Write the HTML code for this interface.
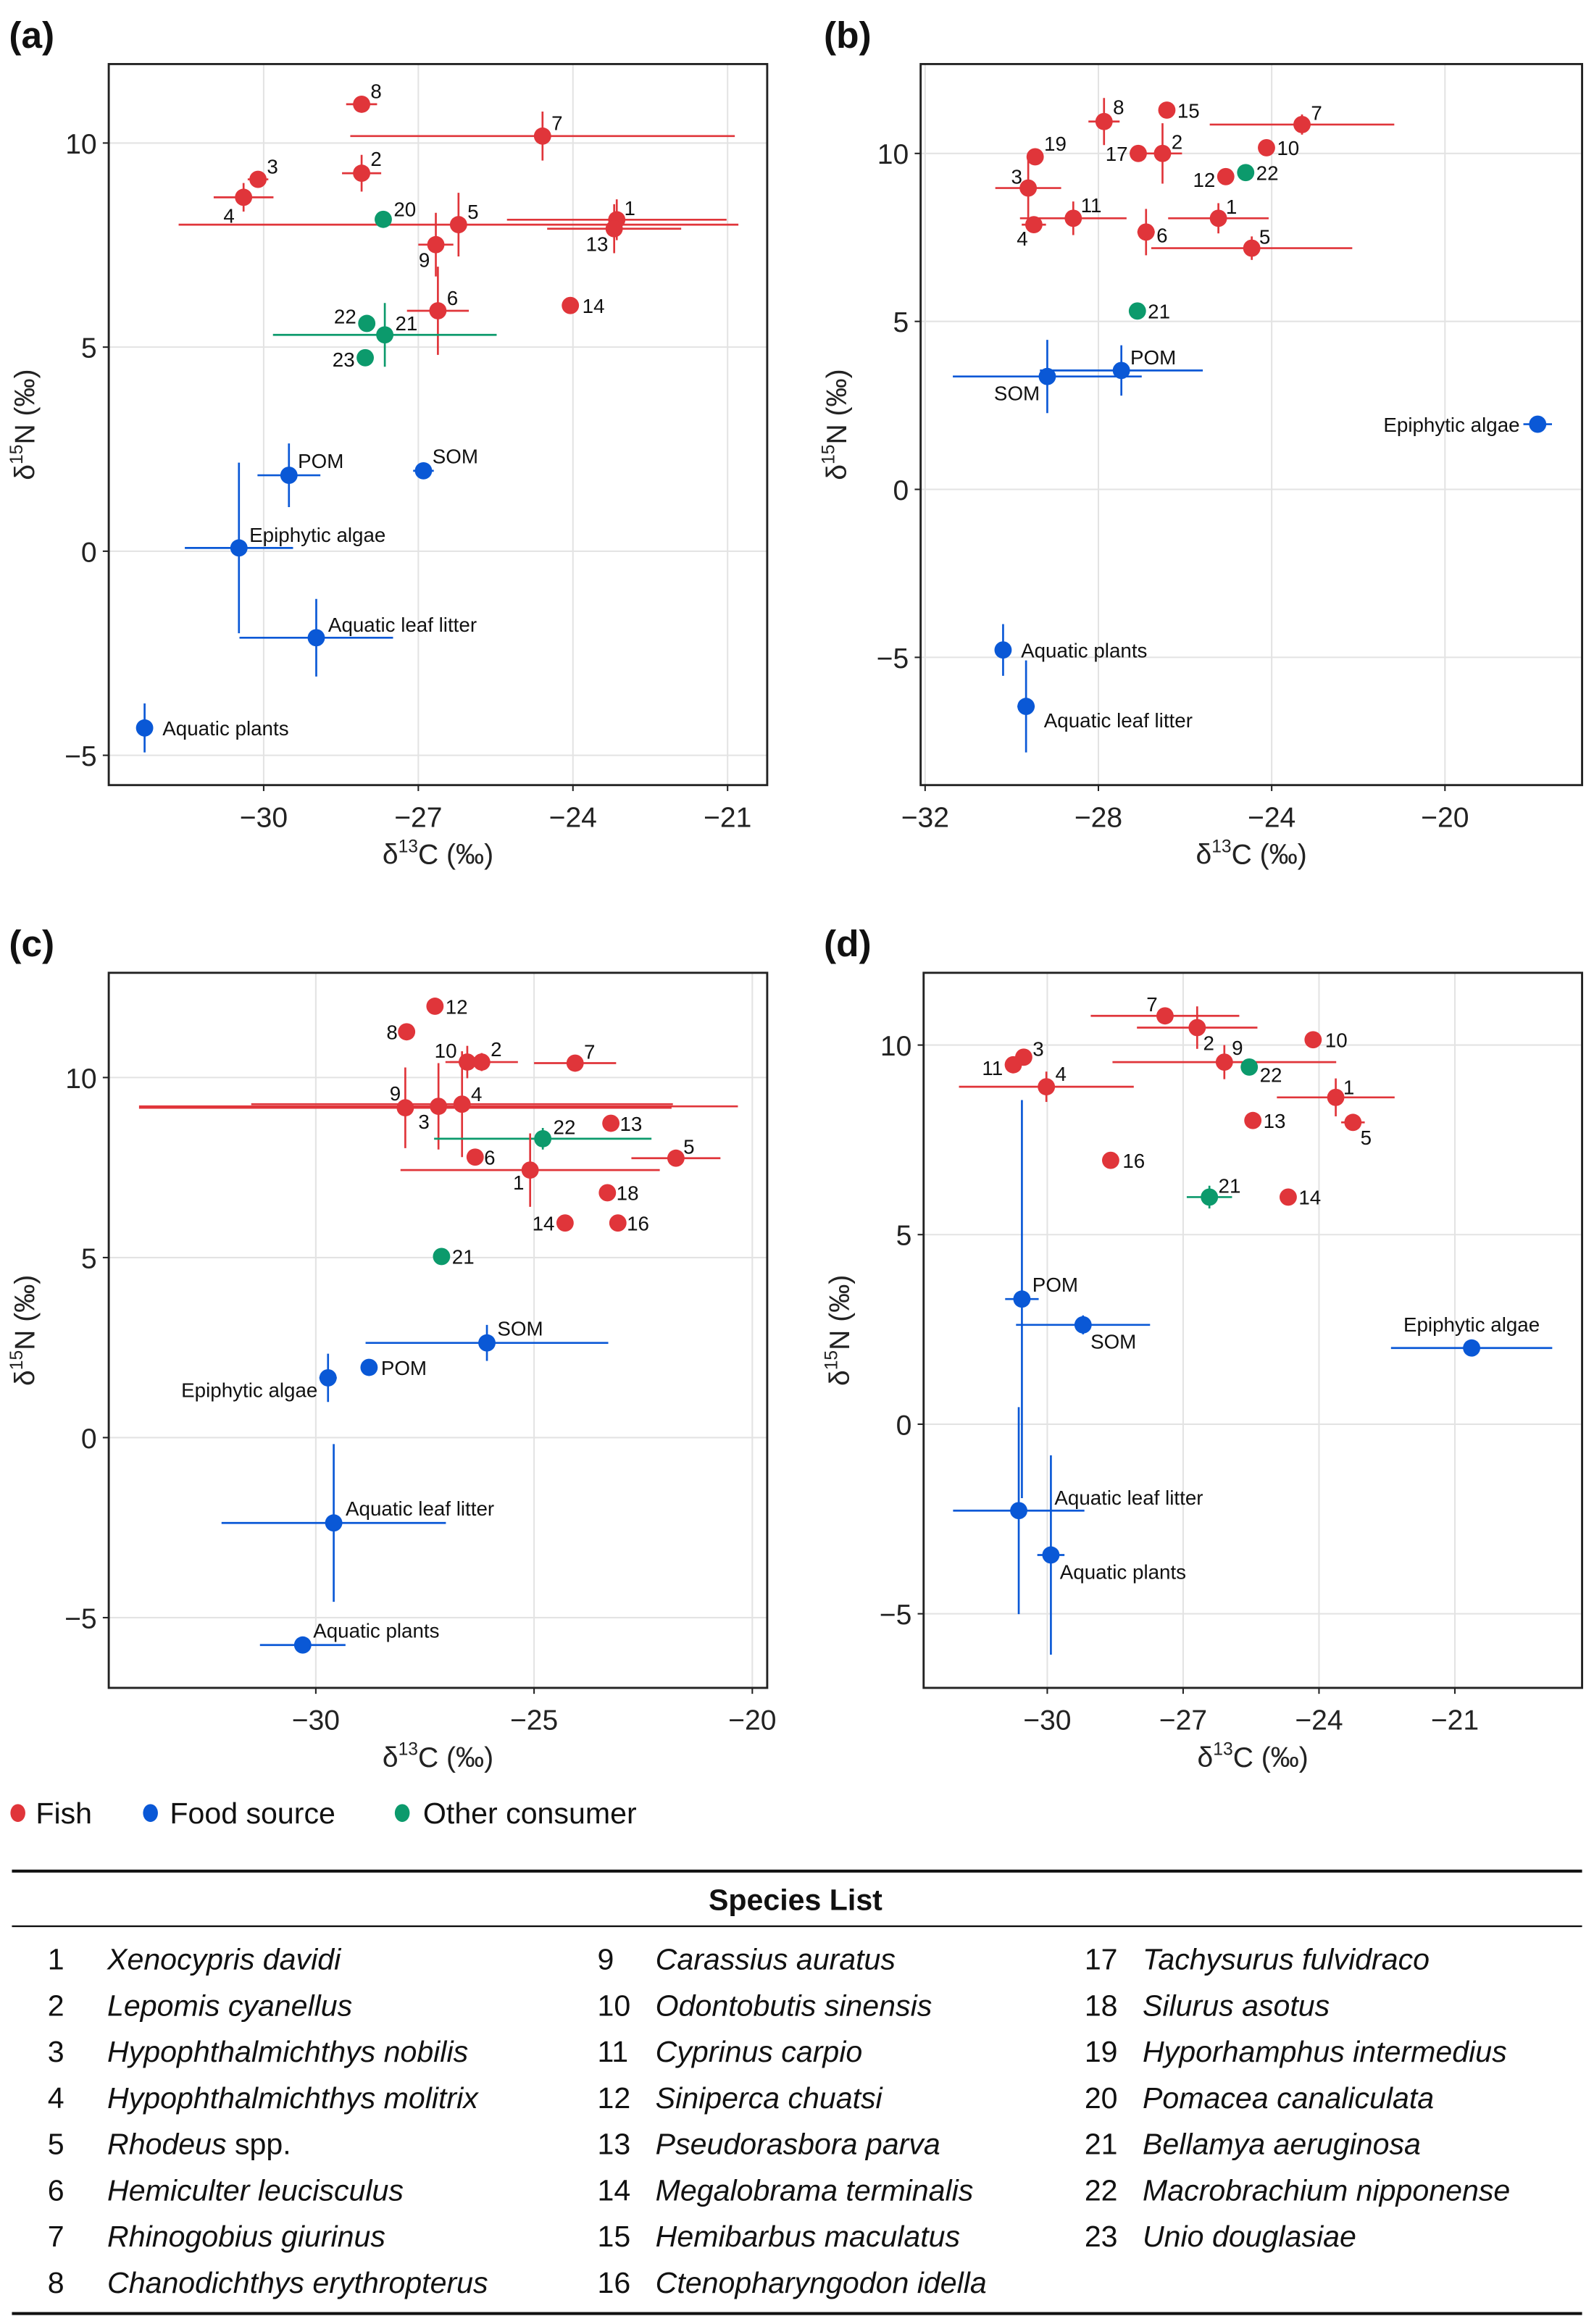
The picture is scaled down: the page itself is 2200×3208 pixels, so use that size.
<!DOCTYPE html>
<html><head><meta charset="utf-8"><style>
html,body{margin:0;padding:0;background:#fff;}
svg{display:block;font-family:"Liberation Sans",sans-serif;}
</style></head><body>
<svg id="fig" width="2200" height="3208" viewBox="0 0 1070 1560" preserveAspectRatio="none" xmlns="http://www.w3.org/2000/svg"></svg>
<script>
// ---------- Panel (a) data ----------
const aLabels = ['1','13','5','7','8','2','3','4','20','9','6','14','21','22','23','POM','SOM','Epiphytic algae','Aquatic leaf litter','Aquatic plants'];
const aGroups = ['f','f','f','f','f','f','f','f','o','f','f','f','o','o','o','s','s','s','s','s'];
const aX = [-23.15,-23.2,-26.22,-24.59,-28.1,-28.1,-30.11,-30.39,-27.68,-26.66,-26.62,-24.05,-27.65,-28.0,-28.03,-29.51,-26.9,-30.48,-28.98,-32.31];
const aY = [8.12,7.9,8.0,10.17,10.95,9.26,9.11,8.67,8.13,7.51,5.89,6.02,5.3,5.58,4.74,1.86,1.97,0.08,-2.12,-4.33];
const aXerr = [2.13,1.3,5.43,3.73,0.3,0.38,0.2,0.58,0,0.34,0.6,0,2.17,0,0,0.61,0.2,1.05,1.49,0];
const aYerr = [0.5,0.6,0.78,0.6,0,0.45,0.2,0.35,0,0.78,1.08,0,0.78,0,0,0.78,0,2.09,0.95,0.6];
const aXTicks = [-30,-27,-24,-21];
const aYTicks = [-5,0,5,10];
// ---------- Panel (b) data ----------
const bLabels = ['8','15','7','19','17','2','10','12','22','3','11','4','6','1','5','21','POM','SOM','Epiphytic algae','Aquatic plants','Aquatic leaf litter'];
const bGroups = ['f','f','f','f','f','f','f','f','o','f','f','f','f','f','f','o','s','s','s','s','s'];
const bX = [-27.87,-26.42,-23.3,-29.46,-27.08,-26.52,-24.12,-25.06,-24.6,-29.62,-28.58,-29.49,-26.9,-25.23,-24.46,-27.1,-27.47,-29.18,-17.86,-30.2,-29.67];
const bY = [10.95,11.29,10.86,9.9,10.0,10.0,10.17,9.31,9.43,8.97,8.07,7.88,7.66,8.07,7.18,5.31,3.54,3.36,1.94,-4.78,-6.46];
const bXerr = [0.36,0,2.13,0,0,0.45,0,0,0,0.76,1.23,0.28,0.2,1.16,2.32,0,1.88,2.18,0.33,0,0.2];
const bYerr = [0.7,0,0.3,0,0,0.9,0,0,0,0.95,0.5,0,0.69,0.45,0.35,0.25,0.75,1.09,0,0.77,1.37];
const bXTicks = [-32,-28,-24,-20];
const bYTicks = [-5,0,5,10];
// ---------- Panel (c) data ----------
const cLabels = ['12','8','10','2','7','9','3','4','13','22','6','5','1','18','14','16','21','SOM','POM','Epiphytic algae','Aquatic leaf litter','Aquatic plants'];
const cGroups = ['f','f','f','f','f','f','f','f','f','o','f','f','f','f','f','f','o','s','s','s','s','s'];
const cX = [-27.27,-27.92,-26.53,-26.2,-24.06,-27.95,-27.19,-26.65,-23.24,-24.8,-26.35,-21.75,-25.09,-23.32,-24.29,-23.08,-27.12,-26.08,-28.78,-29.72,-29.59,-30.3];
const cY = [11.98,11.27,10.43,10.43,10.4,9.16,9.2,9.26,8.73,8.3,7.79,7.76,7.43,6.8,5.96,5.96,5.03,2.63,1.95,1.66,-2.37,-5.76];
const cXerr = [0,0,0.4,0.83,0.94,6.1,6.86,4.83,0,2.49,0,1.02,2.97,0,0,0,0,2.78,0,0.2,2.57,0.98];
const cYerr = [0,0,0.45,0.25,0,1.12,1.2,1.47,0,0.3,0,0,1.02,0,0,0,0,0.5,0,0.67,2.19,0.2];
const cXTicks = [-30,-25,-20];
const cYTicks = [-5,0,5,10];
// ---------- Panel (d) data ----------
const dLabels = ['7','2','10','3','11','9','22','4','1','13','5','16','21','14','POM','SOM','Epiphytic algae','Aquatic leaf litter','Aquatic plants'];
const dGroups = ['f','f','f','f','f','f','o','f','f','f','f','f','o','f','s','s','s','s','s'];
const dX = [-27.4,-26.69,-24.13,-30.52,-30.75,-26.09,-25.54,-30.02,-23.63,-25.46,-23.25,-28.6,-26.42,-24.68,-30.56,-29.21,-20.63,-30.63,-29.92];
const dY = [10.77,10.46,10.14,9.68,9.48,9.55,9.42,8.9,8.62,8.01,7.96,6.96,5.99,5.99,3.3,2.62,2.01,-2.28,-3.45];
const dXerr = [1.64,1.33,0,0,0,2.47,0,1.93,1.3,0,0.26,0,0.5,0,0.37,1.48,1.78,1.45,0.3];
const dYerr = [0.15,0.56,0,0,0,0.45,0.2,0.4,0.5,0,0,0,0.3,0,5.25,0.25,0,2.73,2.63];
const dXTicks = [-30,-27,-24,-21];
const dYTicks = [-5,0,5,10];

// label placement (layout, not data): [dx, dy, anchor]
const aLab = [[5,-8,'s'],[-4,10,'e'],[6,-9,'s'],[6,-9,'s'],[6,-9,'s'],[6,-10,'s'],[6,-9,'s'],[-6,12,'e'],[7,-7,'s'],[-4,10,'e'],[6,-9,'s'],[8,0,'s'],[7,-8,'s'],[-7,-5,'e'],[-7,1,'e'],[6,-10,'s'],[6,-10,'s'],[7,-9,'s'],[8,-9,'s'],[12,0,'s']];
const bLab = [[6,-10,'s'],[7,0,'s'],[6,-8,'s'],[6,-9,'s'],[-7,0,'e'],[6,-8,'s'],[7,0,'s'],[-7,2,'e'],[7,0,'s'],[-4,-8,'e'],[5,-9,'s'],[-4,9,'e'],[7,2,'s'],[5,-8,'s'],[5,-8,'s'],[7,0,'s'],[6,-9,'s'],[-5,11,'e'],[-12,0,'e'],[12,0,'s'],[12,9,'s']];
const cLab = [[7,0,'s'],[-6,0,'e'],[-7,-8,'e'],[6,-9,'s'],[6,-8,'s'],[-3,-10,'e'],[-6,10,'e'],[6,-7,'s'],[6,0,'s'],[7,-8,'s'],[6,0,'s'],[5,-8,'s'],[-4,8,'e'],[6,0,'s'],[-7,0,'e'],[6,0,'s'],[7,0,'s'],[7,-10,'s'],[8,0,'s'],[-7,8,'e'],[8,-10,'s'],[7,-10,'s']];
const dLab = [[-5,-8,'e'],[4,10,'s'],[8,0,'s'],[6,-6,'s'],[-7,2,'e'],[5,-10,'s'],[7,5,'s'],[6,-9,'s'],[5,-7,'s'],[7,0,'s'],[5,10,'s'],[8,0,'s'],[6,-8,'s'],[7,0,'s'],[7,-10,'s'],[5,11,'s'],[0,-16,'m'],[24,-9,'s'],[6,11,'s']];

const COL = {f:'#e0353a', s:'#0a58d6', o:'#0c9a6c'};
const NS = 'http://www.w3.org/2000/svg';
const fig = document.getElementById('fig');
function mk(tag, attrs, parent){
  const e = document.createElementNS(NS, tag);
  for (const k in attrs) e.setAttribute(k, attrs[k]);
  (parent||fig).appendChild(e);
  return e;
}

const panels = [
  {id:'a', letter:'(a)', lx:6, ly:32, fx0:73, fy0:43, fx1:515, fy1:527, x0:177, xs:34.6, xv0:-30, y0:370, ys:27.4,
   L:aLabels,G:aGroups,X:aX,Y:aY,XE:aXerr,YE:aYerr,XT:aXTicks,YT:aYTicks,LB:aLab},
  {id:'b', letter:'(b)', lx:553, ly:32, fx0:618, fy0:43, fx1:1062, fy1:527, x0:621, xs:29.08, xv0:-32, y0:328.5, ys:22.55,
   L:bLabels,G:bGroups,X:bX,Y:bY,XE:bXerr,YE:bYerr,XT:bXTicks,YT:bYTicks,LB:bLab},
  {id:'c', letter:'(c)', lx:6, ly:642, fx0:73, fy0:653, fx1:515, fy1:1133, x0:212, xs:29.3, xv0:-30, y0:965, ys:24.17,
   L:cLabels,G:cGroups,X:cX,Y:cY,XE:cXerr,YE:cYerr,XT:cXTicks,YT:cYTicks,LB:cLab},
  {id:'d', letter:'(d)', lx:553, ly:642, fx0:620, fy0:653, fx1:1062, fy1:1133, x0:703, xs:30.4, xv0:-30, y0:956, ys:25.45,
   L:dLabels,G:dGroups,X:dX,Y:dY,XE:dXerr,YE:dYerr,XT:dXTicks,YT:dYTicks,LB:dLab}
];

panels.forEach(p => {
  const xm = v => p.x0 + (v - p.xv0) * p.xs;
  const ym = v => p.y0 - v * p.ys;
  const g = mk('g', {});
  
  
  const letter = mk('text', {x:p.lx, y:p.ly, 'font-size':25, 'font-weight':'bold', fill:'#111'}, g);
  letter.textContent = p.letter;
  
  
  // grid
  p.XT.forEach(t => {
    const gl = mk('line', {x1:xm(t), x2:xm(t), y1:p.fy0, y2:p.fy1, stroke:'#e3e3e3', 'stroke-width':1}, g);
    
    
    const tk = mk('line', {x1:xm(t), x2:xm(t), y1:p.fy1, y2:p.fy1+4, stroke:'#222', 'stroke-width':1}, g);
    
    
    const tl = mk('text', {x:xm(t), y:p.fy1+28, 'font-size':19, 'text-anchor':'middle', fill:'#222'}, g);
    tl.textContent = '\u2212' + Math.abs(t);
    
    
  });
  p.YT.forEach(t => {
    const gl = mk('line', {x1:p.fx0, x2:p.fx1, y1:ym(t), y2:ym(t), stroke:'#e3e3e3', 'stroke-width':1}, g);
    
    
    const tk = mk('line', {x1:p.fx0-4, x2:p.fx0, y1:ym(t), y2:ym(t), stroke:'#222', 'stroke-width':1}, g);
    
    
    const tl = mk('text', {x:p.fx0-8, y:ym(t)+7, 'font-size':19, 'text-anchor':'end', fill:'#222'}, g);
    tl.textContent = t < 0 ? '\u2212' + Math.abs(t) : String(t);
    
    
  });
  // error bars
  p.X.forEach((v, i) => {
    const c = COL[p.G[i]];
    if (p.XE[i] > 0) {
      const e = mk('line', {x1:xm(v - p.XE[i]), x2:xm(v + p.XE[i]), y1:ym(p.Y[i]), y2:ym(p.Y[i]), stroke:c, 'stroke-width':1.3}, g);
      
      
    }
    if (p.YE[i] > 0) {
      const e = mk('line', {x1:xm(v), x2:xm(v), y1:ym(p.Y[i] - p.YE[i]), y2:ym(p.Y[i] + p.YE[i]), stroke:c, 'stroke-width':1.3}, g);
      
      
    }
  });
  // points + labels
  p.X.forEach((v, i) => {
    const cx = xm(v), cy = ym(p.Y[i]);
    const pt = mk('circle', {cx:cx, cy:cy, r:5.8, fill:COL[p.G[i]]}, g);
    
    
    const lb = p.LB[i];
    const anchor = lb[2] === 'e' ? 'end' : (lb[2] === 'm' ? 'middle' : 'start');
    const tx = mk('text', {x:cx + lb[0], y:cy + lb[1] + 5, 'font-size':13.5, 'text-anchor':anchor, fill:'#111'}, g);
    tx.textContent = p.L[i];
    
    
  });
  // frame
  const fr = mk('rect', {x:p.fx0, y:p.fy0, width:p.fx1-p.fx0, height:p.fy1-p.fy0, fill:'none', stroke:'#222', 'stroke-width':1.4}, g);
  
  
  // axis titles
  const xt = mk('text', {x:(p.fx0+p.fx1)/2, y:p.fy1+53, 'font-size':19, 'text-anchor':'middle', fill:'#222'}, g);
  xt.innerHTML = '\u03b4<tspan font-size="12" dy="-8">13</tspan><tspan dy="8">C (\u2030)</tspan>';
  
  
  const yx = p.fx0 - 50, yy = (p.fy0 + p.fy1) / 2;
  const yt = mk('text', {x:yx, y:yy, 'font-size':19, 'text-anchor':'middle', fill:'#222', transform:'rotate(-90 ' + yx + ' ' + yy + ')'}, g);
  yt.innerHTML = '\u03b4<tspan font-size="12" dy="-8">15</tspan><tspan dy="8">N (\u2030)</tspan>';
  
  
});
</script>

<!-- legend & species table (static) -->
<svg style="position:absolute;left:0;top:0" width="2200" height="3208" viewBox="0 0 1070 1560" preserveAspectRatio="none" xmlns="http://www.w3.org/2000/svg">
  <g font-family="Liberation Sans, sans-serif" font-size="20" fill="#111">
    <g><ellipse cx="12" cy="1217" rx="5" ry="6" fill="#e0353a"/><text x="24" y="1224">Fish</text></g>
    <g><ellipse cx="101" cy="1217" rx="5" ry="6" fill="#0a58d6"/><text x="114" y="1224">Food source</text></g>
    <g><ellipse cx="270" cy="1217" rx="5" ry="6" fill="#0c9a6c"/><text x="284" y="1224">Other consumer</text></g>
  </g>
  <g font-family="Liberation Sans, sans-serif" font-size="20" fill="#111">
    <line x1="8" y1="1256" x2="1062" y2="1256" stroke="#111" stroke-width="2"/>
    <text x="534" y="1282" text-anchor="middle" font-weight="bold">Species List</text>
    <line x1="8" y1="1293" x2="1062" y2="1293" stroke="#111" stroke-width="1.2"/>
    <line x1="8" y1="1553" x2="1062" y2="1553" stroke="#111" stroke-width="2"/>
    <g>
      <text x="32" y="1322">1</text><text x="72" y="1322" font-style="italic">Xenocypris davidi</text>
      <text x="32" y="1353">2</text><text x="72" y="1353" font-style="italic">Lepomis cyanellus</text>
      <text x="32" y="1384">3</text><text x="72" y="1384" font-style="italic">Hypophthalmichthys nobilis</text>
      <text x="32" y="1415">4</text><text x="72" y="1415" font-style="italic">Hypophthalmichthys molitrix</text>
      <text x="32" y="1446">5</text><text x="72" y="1446"><tspan font-style="italic">Rhodeus</tspan> spp.</text>
      <text x="32" y="1477">6</text><text x="72" y="1477" font-style="italic">Hemiculter leucisculus</text>
      <text x="32" y="1508">7</text><text x="72" y="1508" font-style="italic">Rhinogobius giurinus</text>
      <text x="32" y="1539">8</text><text x="72" y="1539" font-style="italic">Chanodichthys erythropterus</text>
    </g>
    <g>
      <text x="401" y="1322">9</text><text x="440" y="1322" font-style="italic">Carassius auratus</text>
      <text x="401" y="1353">10</text><text x="440" y="1353" font-style="italic">Odontobutis sinensis</text>
      <text x="401" y="1384">11</text><text x="440" y="1384" font-style="italic">Cyprinus carpio</text>
      <text x="401" y="1415">12</text><text x="440" y="1415" font-style="italic">Siniperca chuatsi</text>
      <text x="401" y="1446">13</text><text x="440" y="1446" font-style="italic">Pseudorasbora parva</text>
      <text x="401" y="1477">14</text><text x="440" y="1477" font-style="italic">Megalobrama terminalis</text>
      <text x="401" y="1508">15</text><text x="440" y="1508" font-style="italic">Hemibarbus maculatus</text>
      <text x="401" y="1539">16</text><text x="440" y="1539" font-style="italic">Ctenopharyngodon idella</text>
    </g>
    <g>
      <text x="728" y="1322">17</text><text x="767" y="1322" font-style="italic">Tachysurus fulvidraco</text>
      <text x="728" y="1353">18</text><text x="767" y="1353" font-style="italic">Silurus asotus</text>
      <text x="728" y="1384">19</text><text x="767" y="1384" font-style="italic">Hyporhamphus intermedius</text>
      <text x="728" y="1415">20</text><text x="767" y="1415" font-style="italic">Pomacea canaliculata</text>
      <text x="728" y="1446">21</text><text x="767" y="1446" font-style="italic">Bellamya aeruginosa</text>
      <text x="728" y="1477">22</text><text x="767" y="1477" font-style="italic">Macrobrachium nipponense</text>
      <text x="728" y="1508">23</text><text x="767" y="1508" font-style="italic">Unio douglasiae</text>
    </g>
  </g>
</svg>
</body></html>
